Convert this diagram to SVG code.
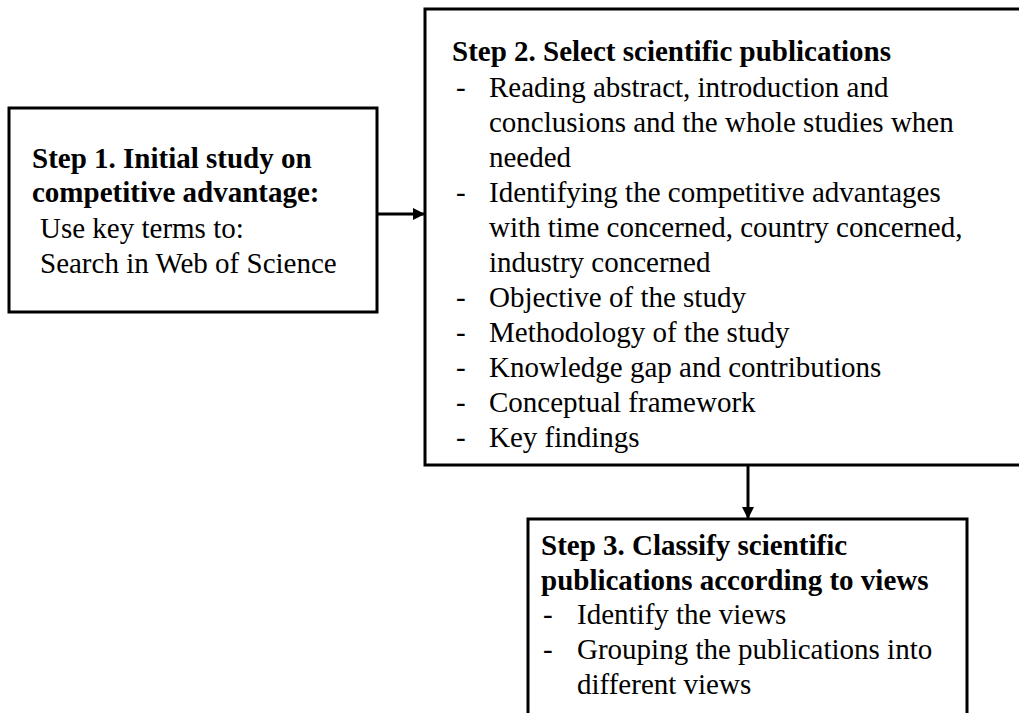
<svg xmlns="http://www.w3.org/2000/svg" width="1019" height="713" viewBox="0 0 1019 713">
<style>
.box{fill:#fff;stroke:#000;stroke-width:3}
text{font-family:"Liberation Serif","Times New Roman",serif;font-size:29px;fill:#000}
.b{font-weight:bold}
.conn{stroke:#000;stroke-width:3;fill:none}
</style>
<defs>
<marker id="ah" markerWidth="12" markerHeight="12" refX="11" refY="6" orient="auto" markerUnits="userSpaceOnUse">
<path d="M0,0 L12,6 L0,12 Z" fill="#000"/>
</marker>
</defs>
<rect width="1019" height="713" fill="#fff"/>
<g id="step1">
<rect class="box" x="9" y="108" width="368" height="204"/>
<text class="b" x="32" y="168">Step 1. Initial study on</text>
<text class="b" x="32" y="202">competitive advantage:</text>
<text x="40" y="238">Use key terms to:</text>
<text x="40" y="273">Search in Web of Science</text>
</g>
<g id="step2">
<rect class="box" x="425" y="9" width="600" height="456"/>
<text class="b" x="452" y="61">Step 2. Select scientific publications</text>
<text x="456" y="97">-</text><text x="489" y="97">Reading abstract, introduction and</text>
<text x="489" y="132">conclusions and the whole studies when</text>
<text x="489" y="167">needed</text>
<text x="456" y="202">-</text><text x="489" y="202">Identifying the competitive advantages</text>
<text x="489" y="237">with time concerned, country concerned,</text>
<text x="489" y="272">industry concerned</text>
<text x="456" y="307">-</text><text x="489" y="307">Objective of the study</text>
<text x="456" y="342">-</text><text x="489" y="342">Methodology of the study</text>
<text x="456" y="377">-</text><text x="489" y="377">Knowledge gap and contributions</text>
<text x="456" y="412">-</text><text x="489" y="412">Conceptual framework</text>
<text x="456" y="447">-</text><text x="489" y="447">Key findings</text>
</g>
<g id="step3">
<rect class="box" x="528" y="519" width="439" height="210"/>
<text class="b" x="541" y="555">Step 3. Classify scientific</text>
<text class="b" x="541" y="590">publications according to views</text>
<text x="543" y="624">-</text><text x="577" y="624">Identify the views</text>
<text x="543" y="659">-</text><text x="577" y="659">Grouping the publications into</text>
<text x="577" y="694">different views</text>
</g>
<g id="connectors">
<line class="conn" x1="378" y1="214" x2="424" y2="214" marker-end="url(#ah)"/>
<line class="conn" x1="748" y1="466" x2="748" y2="518" marker-end="url(#ah)"/>
</g>
</svg>
